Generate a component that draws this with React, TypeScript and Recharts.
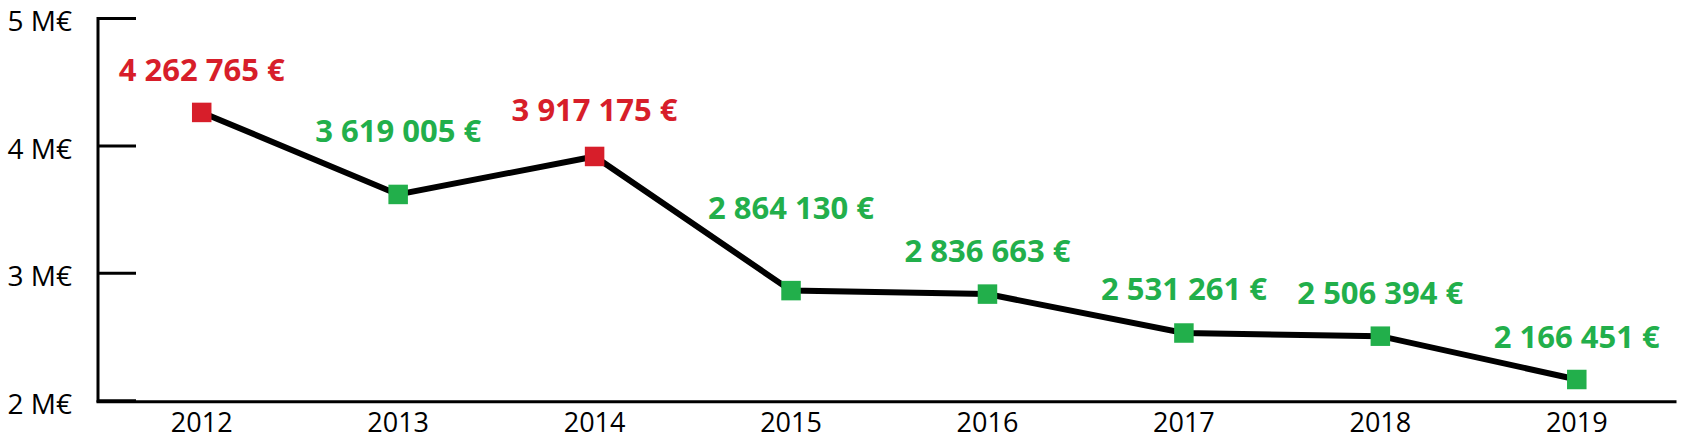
import React from 'react';
import { LineChart, Line, XAxis, YAxis, LabelList } from 'recharts';

const years = ['2012', '2013', '2014', '2015', '2016', '2017', '2018', '2019'];
const amounts = [4262765, 3619005, 3917175, 2864130, 2836663, 2531261, 2506394, 2166451];
const increased = [true, false, true, false, false, false, false, false];
const yTicks = [2000000, 3000000, 4000000, 5000000];
const boundaryTicks = [1, 2, 3, 4, 5, 6, 7, 8];

// layout: how far each value label sits above its point (px)
const labelLift = [31, 52, 35, 72, 32, 33, 32, 31];

const RED = '#D71E2A';
const GREEN = '#22AF4B';
const FONT = '"Open Sans", "Noto Sans", sans-serif';

const data = years.map((year, i) => ({ year, amount: amounts[i], up: increased[i] }));

const fmtEuro = (v: number) => String(v).replace(/\B(?=(\d{3})+(?!\d))/g, ' ') + ' €';

const SquareDot = (props: any) => {
  const { cx, cy, index } = props;
  if (cx == null || cy == null) return null;
  const s = 19.5;
  return (
    <rect
      key={`dot-${index}`}
      x={cx - s / 2}
      y={cy - s / 2}
      width={s}
      height={s}
      fill={increased[index] ? RED : GREEN}
    />
  );
};

const ValueLabel = (props: any) => {
  const x = props.x ?? props.viewBox?.x;
  const y = props.y ?? props.viewBox?.y;
  const index = props.index ?? 0;
  if (x == null || y == null) return null;
  return (
    <text
      x={x}
      y={y - labelLift[index]}
      textAnchor="middle"
      fontSize={31}
      fontWeight={700}
      fontFamily={FONT}
      fill={increased[index] ? RED : GREEN}
    >
      {fmtEuro(props.value)}
    </text>
  );
};

export default function App() {
  return (
    <div style={{ position: 'absolute', left: 0, top: 0, fontFamily: FONT, background: '#fff' }}>
      <LineChart
        width={1681}
        height={446}
        data={data}
        margin={{ top: 18.5, right: 6, bottom: 43.3, left: 0 }}
      >
        <XAxis
          xAxisId="grid"
          type="number"
          domain={[0, 8]}
          ticks={boundaryTicks}
          allowDataOverflow
          padding={{ left: 5.5, right: 0 }}
          height={1}
          tick={false}
          tickSize={-9}
          tickLine={{ stroke: '#000', strokeWidth: 3 }}
          axisLine={{ stroke: '#000', strokeWidth: 3, strokeLinecap: 'square' }}
        />
        <XAxis
          xAxisId="cat"
          dataKey="year"
          type="category"
          scale="band"
          interval={0}
          padding={{ left: 5.5, right: 0 }}
          height={1}
          axisLine={false}
          tickLine={false}
          tickSize={0}
          tickMargin={12}
          tick={{ fontSize: 27, fill: '#000', fontFamily: FONT }}
        />
        <YAxis
          type="number"
          domain={[2000000, 5000000]}
          ticks={yTicks}
          width={98}
          tickSize={-38}
          tickMargin={64}
          tickFormatter={(v: number) => `${v / 1000000} M€`}
          tick={{ fontSize: 28, fill: '#000', fontFamily: FONT, dy: 3 }}
          tickLine={{ stroke: '#000', strokeWidth: 3 }}
          axisLine={{ stroke: '#000', strokeWidth: 3, strokeLinecap: 'square' }}
        />
        <Line
          xAxisId="cat"
          dataKey="amount"
          stroke="#000"
          strokeWidth={6}
          strokeLinejoin="miter"
          dot={SquareDot}
          activeDot={false}
          isAnimationActive={false}
        >
          <LabelList dataKey="amount" content={ValueLabel} />
        </Line>
      </LineChart>
    </div>
  );
}
